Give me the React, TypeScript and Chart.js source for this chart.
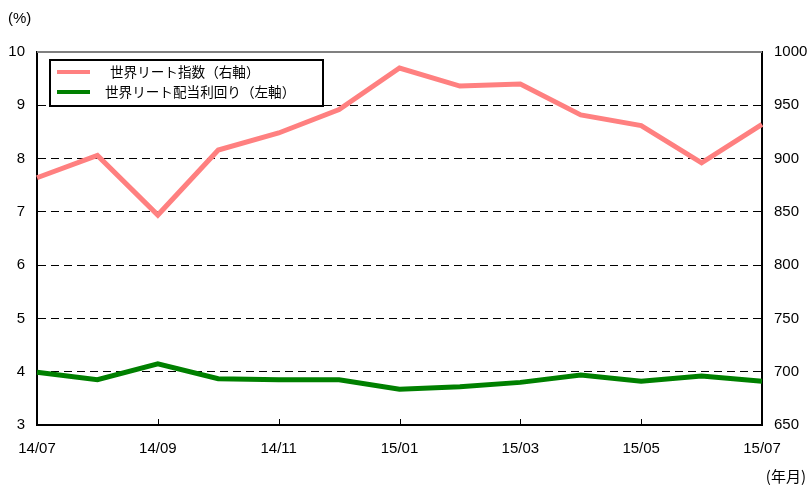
import React, { useEffect, useRef } from "react";
import { Chart, registerables } from "chart.js";

Chart.register(...registerables);

const months = [
  "14/07", "14/08", "14/09", "14/10", "14/11", "14/12",
  "15/01", "15/02", "15/03", "15/04", "15/05", "15/06", "15/07",
];
const reitIndex = [882, 903, 847, 908, 924, 946, 985, 968, 970, 941, 931, 896, 932];
const reitYield = [3.99, 3.85, 4.15, 3.87, 3.85, 3.85, 3.67, 3.72, 3.8, 3.94, 3.82, 3.92, 3.82];
const indexLabel = "世界リート指数（右軸）";
const yieldLabel = "世界リート配当利回り（左軸）";
const leftUnit = "(%)";
const xUnit = "(年月)";

const PINK = "#FF8080";
const GREEN = "#008000";
const TICK_FONT = { family: "'Liberation Sans', Arial, sans-serif", size: 15 };

const decorations = {
  id: "decorations",
  afterDraw(chart: any) {
    const { ctx, chartArea } = chart;
    const { left, right, top, bottom } = chartArea;
    const x = chart.scales.x;
    ctx.save();
    // gray top frame
    ctx.strokeStyle = "#808080";
    ctx.lineWidth = 2;
    ctx.beginPath();
    ctx.moveTo(left, top);
    ctx.lineTo(right, top);
    ctx.stroke();
    // inner tick marks every two months
    ctx.strokeStyle = "#000";
    ctx.lineWidth = 1;
    for (let i = 2; i < months.length - 1; i += 2) {
      const px = Math.round(x.getPixelForValue(i)) + 0.5;
      ctx.beginPath();
      ctx.moveTo(px, bottom);
      ctx.lineTo(px, bottom - 6);
      ctx.stroke();
    }
    // unit captions
    ctx.fillStyle = "#000";
    ctx.textBaseline = "middle";
    ctx.textAlign = "left";
    ctx.font = "15px 'Liberation Sans', sans-serif";
    ctx.fillText(leftUnit, 8, 19);
    ctx.textAlign = "right";
    ctx.font = "15px 'Noto Sans CJK JP', sans-serif";
    ctx.fillText(xUnit, 806, 476);
    // legend box
    const bx = 50, by = 60, bw = 273, bh = 46;
    ctx.fillStyle = "#fff";
    ctx.fillRect(bx, by, bw, bh);
    ctx.strokeStyle = "#000";
    ctx.lineWidth = 2;
    ctx.strokeRect(bx, by, bw, bh);
    const items = [
      { label: indexLabel, color: PINK, y: 72, tx: 110 },
      { label: yieldLabel, color: GREEN, y: 92, tx: 105 },
    ];
    ctx.textAlign = "left";
    ctx.font = "13.6px 'Noto Sans CJK JP', sans-serif";
    for (const it of items) {
      ctx.strokeStyle = it.color;
      ctx.lineWidth = 4;
      ctx.beginPath();
      ctx.moveTo(57, it.y);
      ctx.lineTo(90, it.y);
      ctx.stroke();
      ctx.fillStyle = "#000";
      ctx.fillText(it.label, it.tx, it.y);
    }
    ctx.restore();
  },
};

export default function App() {
  const ref = useRef<HTMLCanvasElement>(null);
  useEffect(() => {
    document.body.style.margin = "0";
    const chart = new Chart(ref.current!, {
      type: "line",
      data: {
        labels: months,
        datasets: [
          {
            label: indexLabel,
            data: reitIndex,
            yAxisID: "y1",
            borderColor: PINK,
            backgroundColor: PINK,
            borderWidth: 5,
            pointRadius: 0,
            tension: 0,
          },
          {
            label: yieldLabel,
            data: reitYield,
            yAxisID: "y",
            borderColor: GREEN,
            backgroundColor: GREEN,
            borderWidth: 5,
            pointRadius: 0,
            tension: 0,
          },
        ],
      },
      options: {
        responsive: false,
        animation: false,
        layout: { padding: { top: 52, left: 0, right: 0, bottom: 0 } },
        plugins: { legend: { display: false }, tooltip: { enabled: false } },
        scales: {
          x: {
            offset: false,
            grid: { display: false, drawTicks: false },
            border: { color: "#000", width: 2 },
            ticks: {
              autoSkip: false,
              maxRotation: 0,
              padding: 15,
              color: "#000",
              font: TICK_FONT,
              callback: (_v: any, i: number) => (i % 2 === 0 ? months[i] : ""),
            },
            afterFit: (s: any) => { s.height = 62; },
          },
          y: {
            position: "left",
            min: 3,
            max: 10,
            ticks: { stepSize: 1, padding: 12, color: "#000", font: TICK_FONT },
            border: { color: "#000", width: 2, dash: [8, 5] },
            grid: {
              drawTicks: false,
              color: (c: any) => (c.tick && (c.tick.value === 10 || c.tick.value === 3) ? "rgba(0,0,0,0)" : "#000"),
              lineWidth: 1,
            },
            afterFit: (s: any) => { s.width = 37; },
          } as any,
          y1: {
            position: "right",
            min: 650,
            max: 1000,
            ticks: {
              stepSize: 50,
              padding: 12,
              color: "#000",
              font: TICK_FONT,
              callback: (v: any) => String(v),
            },
            border: { color: "#000", width: 2 },
            grid: { display: false, drawTicks: false },
            afterFit: (s: any) => { s.width = 45; },
          },
        },
      },
      plugins: [decorations],
    });
    return () => chart.destroy();
  }, []);
  return <canvas ref={ref} width={807} height={487} style={{ display: "block" }} />;
}
